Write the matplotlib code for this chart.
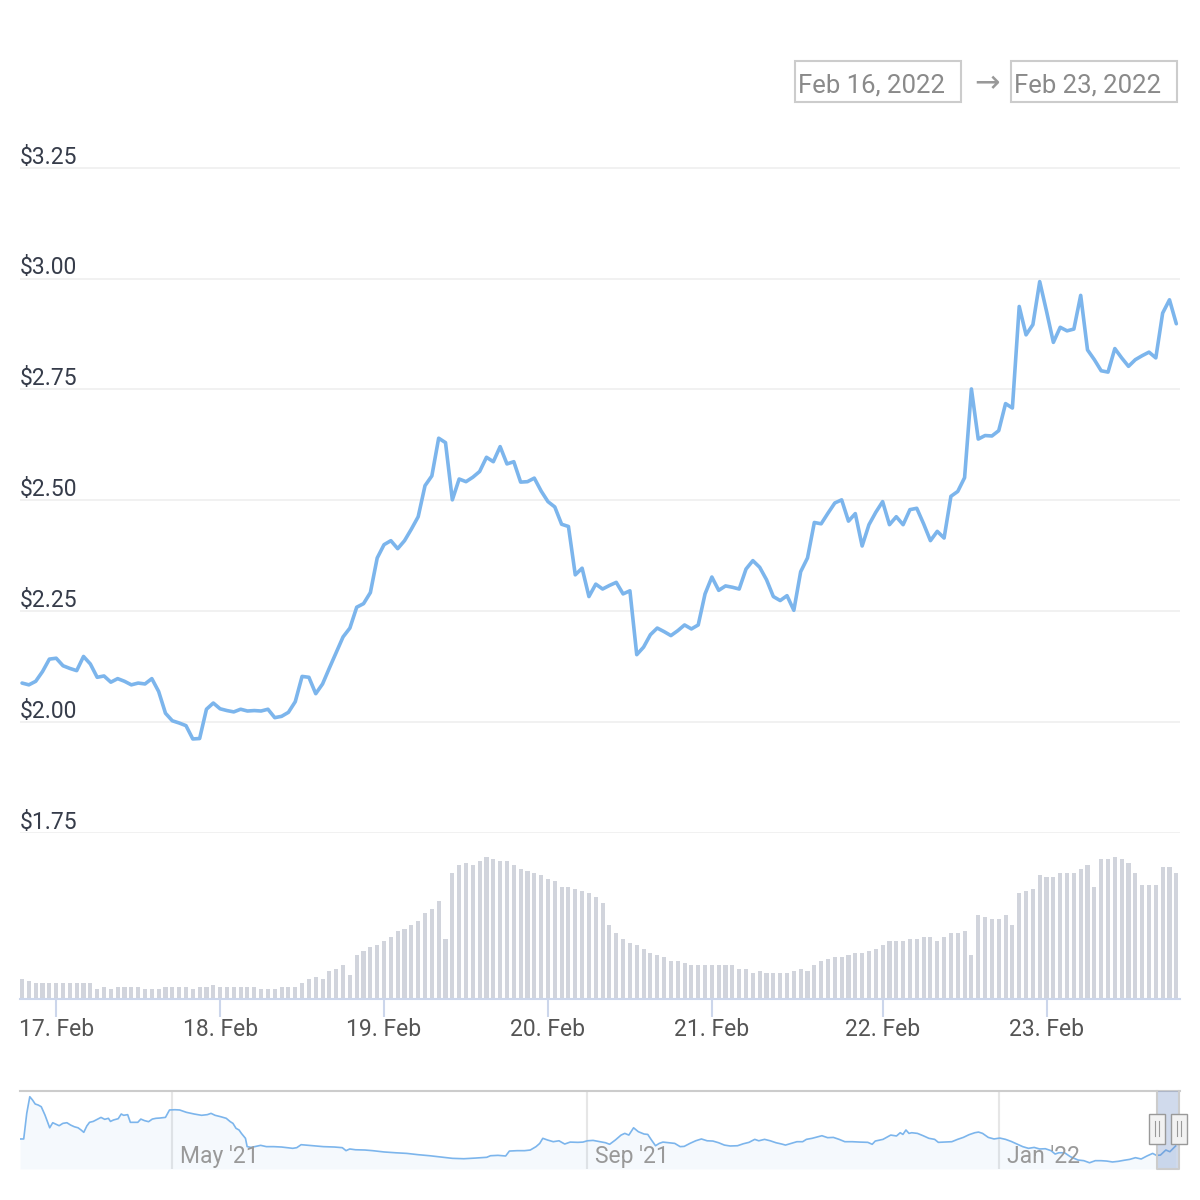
import matplotlib.pyplot as plt
import matplotlib.transforms as mtransforms
from matplotlib.patches import Rectangle

plt.rcParams['font.family'] = ['Roboto', 'DejaVu Sans']

# hourly prices, Feb 16 19:00 -> Feb 23 19:00 (ordinal x axis, one slot per point)
price = [2.088, 2.084, 2.092, 2.114, 2.142, 2.144, 2.127, 2.121, 2.116, 2.148,
         2.131, 2.101, 2.104, 2.090, 2.098, 2.092, 2.084, 2.088, 2.086, 2.098,
         2.069, 2.020, 2.003, 1.998, 1.992, 1.962, 1.963, 2.029, 2.043, 2.030,
         2.026, 2.023, 2.029, 2.025, 2.026, 2.025, 2.029, 2.010, 2.013, 2.022,
         2.046, 2.103, 2.101, 2.064, 2.086, 2.122, 2.157, 2.192, 2.212, 2.259,
         2.267, 2.292, 2.370, 2.400, 2.409, 2.391, 2.409, 2.435, 2.463, 2.533,
         2.555, 2.640, 2.630, 2.501, 2.548, 2.542, 2.552, 2.565, 2.597, 2.587,
         2.621, 2.582, 2.587, 2.541, 2.542, 2.550, 2.521, 2.497, 2.485, 2.446,
         2.441, 2.332, 2.347, 2.283, 2.311, 2.300, 2.308, 2.315, 2.289, 2.296,
         2.152, 2.169, 2.197, 2.212, 2.204, 2.195, 2.206, 2.219, 2.210, 2.219,
         2.289, 2.327, 2.297, 2.307, 2.304, 2.300, 2.345, 2.364, 2.349, 2.321,
         2.283, 2.274, 2.285, 2.252, 2.339, 2.370, 2.450, 2.447, 2.471, 2.494,
         2.501, 2.453, 2.470, 2.397, 2.445, 2.473, 2.497, 2.445, 2.463, 2.445,
         2.479, 2.482, 2.447, 2.409, 2.430, 2.415, 2.509, 2.520, 2.551, 2.751,
         2.638, 2.646, 2.645, 2.657, 2.718, 2.708, 2.937, 2.873, 2.896, 2.993,
         2.926, 2.856, 2.890, 2.882, 2.886, 2.962, 2.839, 2.817, 2.792, 2.789,
         2.842, 2.821, 2.802, 2.817, 2.826, 2.834, 2.821, 2.922, 2.952, 2.898]

# volume (relative units)
volume = [20, 18, 16, 16, 16, 16, 16, 16, 16, 16, 16, 10, 12, 10, 12, 12, 12, 12, 10, 10,
          10, 12, 12, 12, 12, 10, 12, 12, 14, 12, 12, 12, 12, 12, 12, 10, 10, 10, 12, 12,
          12, 16, 20, 22, 20, 28, 30, 34, 24, 44, 48, 52, 54, 58, 62, 68, 70, 74, 78, 86,
          90, 98, 60, 126, 134, 136, 134, 138, 142, 140, 138, 138, 134, 130, 128, 126, 124, 120, 118, 112,
          112, 110, 108, 106, 102, 96, 74, 66, 60, 56, 54, 50, 46, 44, 42, 38, 38, 36, 34, 34,
          34, 34, 34, 34, 34, 30, 30, 26, 28, 26, 26, 26, 26, 28, 30, 28, 34, 38, 40, 42,
          42, 44, 46, 46, 48, 50, 54, 58, 58, 58, 60, 60, 62, 62, 58, 62, 66, 66, 68, 44,
          84, 82, 80, 80, 84, 74, 106, 108, 110, 124, 122, 122, 126, 126, 126, 130, 134, 112, 140, 140,
          142, 140, 136, 126, 114, 114, 114, 132, 132, 126]

tick_idx = [5, 29, 53, 77, 101, 126, 150]
tick_labels = ['17. Feb', '18. Feb', '19. Feb', '20. Feb', '21. Feb', '22. Feb', '23. Feb']
price_ticks = [1.75, 2.00, 2.25, 2.50, 2.75, 3.00, 3.25]

# navigator: days since 2021-03-17, price
nav_day = [0, 1.1, 2, 2.9, 3.7, 4.5, 5.4, 6.3, 7.4, 8.8, 9.7, 10.5, 11.6, 12.7, 13.9, 15, 16.1,
           17.2, 18.1, 18.9, 19.8, 20.6, 21.7, 22.9, 24, 25.1, 26.2, 26.8, 27.7, 29.1, 30, 30.7,
           31.9, 32.7, 33.8, 34.9, 35.8, 36.9, 38.1, 39.2, 40.3, 41.4, 43.1, 44.3, 45.9, 47.3,
           49.3, 51.6, 53.8, 55.5, 56.6, 57.8, 59.5, 61.1, 62.3, 63.1, 64, 64.9, 65.6, 66.8, 67.3,
           68.5, 69.6, 71.3, 73, 75.2, 77.5, 79.2, 80.8, 82, 83.3, 85.4, 87.6, 89.9, 93.2, 95.5,
           96.6, 97.7, 99.4, 102.2, 104.5, 107.9, 111.2, 114.6, 118, 121.4, 124.8, 128.1, 131.5,
           134.9, 138.3, 139.4, 141.6, 143.9, 145, 147.3, 149.5, 151.2, 152.9, 154, 154.9, 156.3,
           158, 159.7, 161.4, 163, 165.3, 166.8, 168.1, 169.8,
           171.9, 173.5, 174.7, 176.4, 178.1, 179.2, 180.4, 181.8, 183.2, 184.9, 186.0, 187.1,
           188.3, 189.4, 190.5, 192.2, 194.0, 195.6, 196.8, 198.5, 200.2, 201.9, 203.6, 205.3,
           207.0, 208.7, 210.4, 212.6, 214.3, 216.0, 217.7, 218.9, 220.6, 222.3, 224.0, 225.7,
           226.8, 228.5, 230.2, 231.9, 233.0, 234.7, 236.4, 237.6, 239.3, 241.0, 242.7, 244.4,
           246.6, 248.9, 251.2, 252.5, 253.4, 255.7, 258.0, 259.7, 260.8, 261.6, 262.5, 263.4,
           264.2, 265.9, 267.6, 269.3, 271.0, 272.1, 273.8, 276.1, 277.8, 279.5, 281.2, 282.9,
           284.0, 285.2, 286.9, 288.6, 290.3, 292.0, 293.7, 295.4, 297.1, 298.8, 300.5, 302.1,
           303.8, 305.5, 306.7, 307.8, 309.5, 311.2, 313.5, 315.2, 316.9, 318.6, 320.3, 322.0,
           323.7, 325.4, 327.1, 328.8, 330.5, 332.2, 333.9, 335.6, 336.7, 337.9, 339.5, 340.7, 342.4]
nav_price = [3.52, 3.52, 5.49, 6.77, 6.52, 6.21, 6.13, 6.00, 5.36, 4.38, 4.77, 4.67, 4.54, 4.72,
             4.77, 4.59, 4.46, 4.38, 4.21, 4.03, 4.52, 4.80, 4.87, 5.03, 5.18, 5.03, 5.11, 4.87,
             4.98, 5.08, 5.44, 5.34, 5.39, 4.80, 4.80, 4.80, 5.05, 4.93, 4.85, 5.05, 5.11, 5.13,
             5.18, 5.75, 5.77, 5.75, 5.57, 5.44, 5.34, 5.39, 5.49, 5.34, 5.23, 5.11, 4.85, 4.72,
             4.34, 4.21, 3.95, 3.57, 2.93, 2.87, 2.93, 3.03, 2.93, 2.93, 2.90, 2.85, 2.80, 2.85,
             3.08, 3.03, 2.98, 2.93, 2.90, 2.85, 2.62, 2.75, 2.69, 2.67, 2.62, 2.52, 2.46, 2.41,
             2.31, 2.23, 2.13, 2.03, 2.00, 2.05, 2.11, 2.23, 2.26, 2.21, 2.59, 2.62, 2.62, 2.67,
             2.93, 3.18, 3.57, 3.44, 3.31, 3.38, 3.13, 3.28, 3.26, 3.28, 3.38, 3.41,
             3.31, 3.23, 3.11, 3.44, 3.82, 3.95, 3.82, 4.38, 4.08, 3.90, 3.87, 3.44,
             3.00, 3.18, 3.28, 3.23, 3.18, 2.93, 2.95, 3.18, 3.38, 3.52, 3.38, 3.36,
             3.23, 3.05, 2.98, 3.00, 3.15, 3.26, 3.49, 3.38, 3.49, 3.38, 3.23, 3.13,
             3.05, 3.18, 3.31, 3.31, 3.49, 3.57, 3.69, 3.77, 3.62, 3.64, 3.49, 3.31,
             3.31, 3.28, 3.26, 3.11, 3.36, 3.49, 3.82, 3.75, 4.00, 3.87, 4.21, 3.95,
             4.00, 3.95, 3.77, 3.57, 3.49, 3.26, 3.28, 3.31, 3.49, 3.64, 3.85, 4.00,
             4.05, 3.95, 3.64, 3.52, 3.59, 3.49, 3.33, 3.13, 2.93, 2.80, 2.87, 2.75,
             2.77, 2.62, 2.36, 2.46, 2.46, 2.16, 1.90, 1.85, 1.69, 1.85, 1.85, 1.82,
             1.75, 1.80, 1.88, 1.95, 2.08, 1.98, 2.21, 2.41, 2.26, 2.28, 2.67, 2.54, 2.98]
nav_ticks = [45, 168, 290]
nav_labels = ["May '21", "Sep '21", "Jan '22"]
sel_start, sel_end = 336.8, 343.4
range_from = 'Feb 16, 2022'
range_to = 'Feb 23, 2022'

W = H = 1200
fig = plt.figure(figsize=(12, 12), dpi=100)
fig.patch.set_facecolor('white')

def fx(px):
    return px / W

def fy(py):
    return 1 - py / H

ax = fig.add_axes([fx(20), fy(833), fx(1160), (833 - 150) / H])
axv = fig.add_axes([fx(20), fy(999), fx(1160), 160 / H], sharex=ax)
axn = fig.add_axes([fx(20), fy(1169), fx(1160), 78 / H])

x = list(range(len(price)))

# price pane
ax.plot(x, price, color='#7cb5ec', lw=2.6, solid_joinstyle='round', solid_capstyle='round', zorder=3)
ax.set_xlim(-0.3, 169.54)
ax.set_ylim(1.75, 1.75 + 683 / 443.6)
ax.set_yticks(price_ticks)
ax.grid(axis='y', color='#eeeeee', lw=1.1)
ax.tick_params(left=False, bottom=False, labelleft=False, labelbottom=False)
for s in ax.spines.values():
    s.set_visible(False)
lab_tr = mtransforms.offset_copy(ax.get_yaxis_transform(), fig, y=4, units='dots')
for p in price_ticks:
    ax.text(0, p, r'\$' + f'{p:.2f}', transform=lab_tr, ha='left', va='baseline',
            fontsize=16.5, color='#363c4a')

# volume pane
axv.bar(x, volume, width=0.6, color='#d1d4dc', zorder=2)
axv.set_ylim(0, 160)
for k, s in axv.spines.items():
    s.set_visible(k == 'bottom')
axv.spines['bottom'].set_color('#ccd6eb')
axv.spines['bottom'].set_linewidth(1.5)
axv.set_yticks([])
axv.set_xticks(tick_idx)
axv.tick_params(axis='x', length=13, width=1.5, color='#ccd6eb', labelbottom=False)
xl_tr = mtransforms.offset_copy(axv.get_xaxis_transform(), fig, y=-37, units='dots')
for i, lab in zip(tick_idx, tick_labels):
    axv.text(i, 0, lab, transform=xl_tr, ha='center', va='baseline',
             fontsize=16.5, color='#555555')

# navigator
axn.set_xlim(0, 343.7)
axn.set_ylim(1.21, 7.21)
for t in nav_ticks:
    axn.axvline(t, color='#e6e6e6', lw=1.5, zorder=1)
axn.fill_between(nav_day, nav_price, 1.21, color='#7cb5ec', alpha=0.07, lw=0, zorder=2)
axn.plot(nav_day, nav_price, color='#7cb5ec', lw=1.2, zorder=3)
nl_tr = mtransforms.offset_copy(axn.get_xaxis_transform(), fig, x=8, y=6, units='dots')
for t, lab in zip(nav_ticks, nav_labels):
    axn.text(t, 0, lab, transform=nl_tr, ha='left', va='baseline', fontsize=16.5,
             color='#999999', zorder=4)
axn.set_xticks([])
axn.set_yticks([])
for k, s in axn.spines.items():
    s.set_visible(k == 'top')
axn.spines['top'].set_color('#cccccc')
axn.spines['top'].set_linewidth(1.5)
axn.axvspan(sel_start, sel_end, color='#6685c2', alpha=0.3, lw=0, zorder=4)
xt = axn.get_xaxis_transform()
axn.plot([sel_start, sel_start, sel_end, sel_end], [1, 0, 0, 1], transform=xt,
         color='#cccccc', lw=1.5, zorder=5, clip_on=False)
hw = 16 / 3.375
for s in (sel_start, sel_end):
    axn.add_patch(Rectangle((s - hw / 2, 0.32), hw, 0.385, transform=xt, facecolor='#f2f2f2',
                            edgecolor='#999999', lw=1, zorder=6, clip_on=False))
    for d in (-0.6, 0.6):
        axn.plot([s + d, s + d], [0.42, 0.61], transform=xt, color='#999999', lw=0.8,
                 zorder=7, clip_on=False)

# range selector inputs
for left, txt in ((795, range_from), (1011, range_to)):
    fig.add_artist(Rectangle((fx(left), fy(102)), fx(166), 41 / H, transform=fig.transFigure,
                             facecolor='white', edgecolor='#cccccc', lw=1.5))
    fig.text(fx(left + 3), fy(92), txt, ha='left', va='baseline', fontsize=18.5, color='#8a8a8a')
fig.text(fx(987), fy(84), '→', ha='center', va='center', fontsize=22, color='#999999',
         family=['DejaVu Sans'])

fig.savefig('out.png', dpi=100, facecolor='white')
